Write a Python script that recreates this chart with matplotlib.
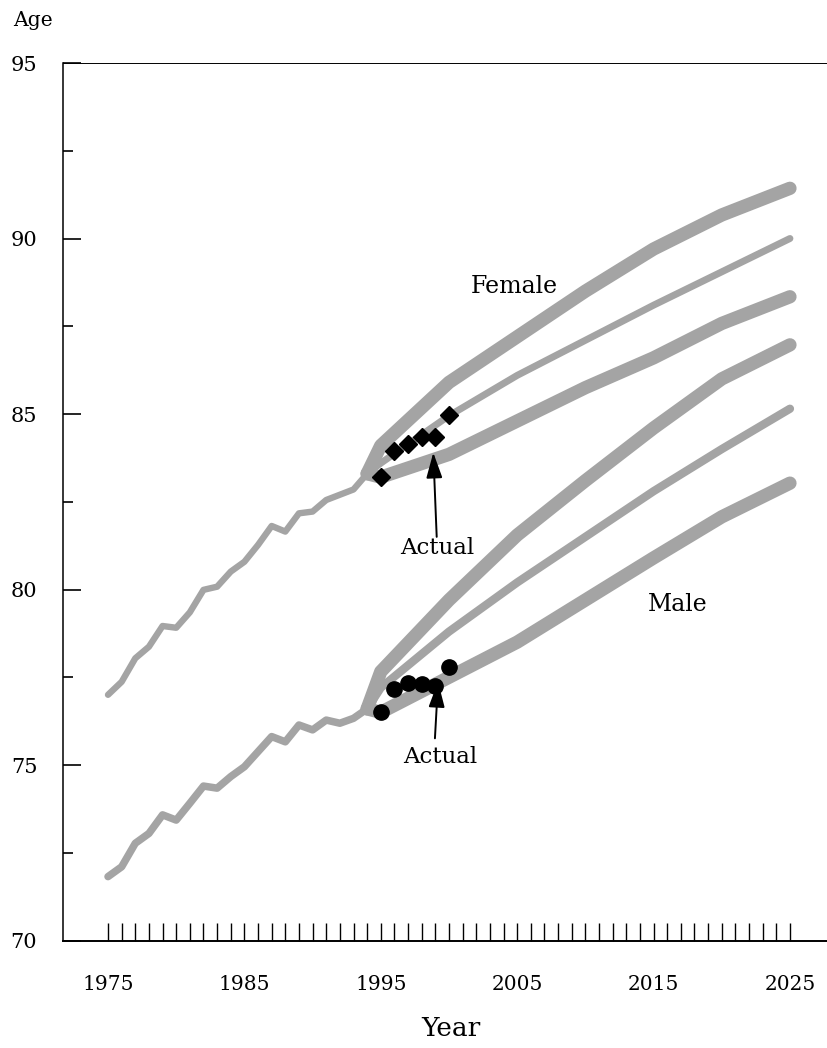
import matplotlib
matplotlib.use("Agg")
import matplotlib.pyplot as plt
import numpy as np

plt.rcParams['font.family'] = ['DejaVu Serif']

# historical life expectancy
years_hist = list(range(1975, 1995))
female_hist = [77.0, 77.37, 78.04, 78.37, 78.96, 78.91, 79.35, 79.99, 80.08, 80.51,
               80.79, 81.27, 81.81, 81.65, 82.17, 82.22, 82.55, 82.7, 82.85, 83.3]
male_hist = [71.82, 72.1, 72.77, 73.05, 73.58, 73.43, 73.91, 74.4, 74.34, 74.67,
             74.95, 75.38, 75.81, 75.66, 76.14, 76.0, 76.28, 76.19, 76.33, 76.6]

# projections (high / middle / low)
years_proj = [1994, 1995, 2000, 2005, 2010, 2015, 2020, 2025]
female_high = [83.3, 84.1, 85.9, 87.2, 88.5, 89.7, 90.67, 91.43]
female_mid = [83.3, 83.6, 84.95, 86.1, 87.1, 88.1, 89.05, 90.0]
female_low = [83.3, 83.2, 83.85, 84.8, 85.75, 86.6, 87.58, 88.34]
male_high = [76.6, 77.66, 79.7, 81.55, 83.1, 84.6, 86.0, 86.97]
male_mid = [76.6, 77.2, 78.8, 80.2, 81.5, 82.8, 84.0, 85.15]
male_low = [76.6, 76.5, 77.5, 78.5, 79.7, 80.9, 82.07, 83.03]

# actual observed values
years_actual = [1995, 1996, 1997, 1998, 1999, 2000]
female_actual = [83.2, 83.95, 84.15, 84.35, 84.35, 84.97]
male_actual = [76.52, 77.16, 77.35, 77.3, 77.25, 77.8]

x_ticks = list(range(1975, 2026))
x_labels = [str(y) if (y - 1975) % 10 == 0 else '' for y in x_ticks]

W, H = 828, 1048
fig = plt.figure(figsize=(W / 100, H / 100), dpi=100)
ax = fig.add_axes([63 / W, (H - 940.5) / H, (W - 63) / W, (940.5 - 63) / H])

grey = '#a4a4a4'
kw = dict(color=grey, solid_capstyle='round', solid_joinstyle='round')

ax.plot(years_hist, female_hist, lw=4.6, **kw)
ax.plot(years_hist, male_hist, lw=5.4, **kw)
ax.plot(years_proj, female_high, lw=9.6, **kw)
ax.plot(years_proj, female_mid, lw=5.0, **kw)
ax.plot(years_proj, female_low, lw=9.6, **kw)
ax.plot(years_proj, male_high, lw=9.6, **kw)
ax.plot(years_proj, male_mid, lw=6.0, **kw)
ax.plot(years_proj, male_low, lw=9.6, **kw)

ax.plot(years_actual, female_actual, 'D', color='black', markersize=9, zorder=5)
ax.plot(years_actual, male_actual, 'o', color='black', markersize=11, zorder=5)

arrow = dict(arrowstyle='-|>,head_length=1.2,head_width=0.38', color='black',
             lw=1.4, mutation_scale=13, shrinkA=0, shrinkB=0)
ax.annotate('', xy=(1998.85, 83.9), xytext=(1999.1, 81.5), arrowprops=arrow, zorder=6)
ax.annotate('', xy=(1999.2, 77.37), xytext=(1998.97, 75.76), arrowprops=arrow, zorder=6)

ax.text(1999.17, 81.18, 'Actual', fontsize=16.5, ha='center', va='center')
ax.text(1999.34, 75.23, 'Actual', fontsize=16.5, ha='center', va='center')
ax.text(2004.8, 88.62, 'Female', fontsize=17, ha='center', va='center')
ax.text(2016.8, 79.58, 'Male', fontsize=17, ha='center', va='center')

ax.set_xlim(1971.7, 2027.79)
ax.set_ylim(70, 95)

ax.set_xticks(x_ticks)
ax.set_xticklabels(x_labels)
ax.tick_params(axis='x', direction='in', length=13, width=1.0, pad=25, labelsize=14.5)
ax.set_yticks([70, 75, 80, 85, 90, 95])
ax.set_yticks(np.arange(72.5, 95, 5), minor=True)
ax.tick_params(axis='y', which='major', direction='in', length=13, width=1.2,
               pad=18.5, labelsize=15)
ax.tick_params(axis='y', which='minor', direction='in', length=7.2, width=1.2)

ax.spines['right'].set_visible(False)
ax.spines['left'].set_linewidth(1.1)
ax.spines['bottom'].set_linewidth(1.4)
ax.spines['top'].set_linewidth(0.7)

fig.text(32.5 / W, 1 - 20 / H, 'Age', fontsize=14.6, ha='center', va='center')
fig.text(451 / W, 1 - 1029 / H, 'Year', fontsize=19, ha='center', va='center')

fig.savefig('out.png', dpi=100)
